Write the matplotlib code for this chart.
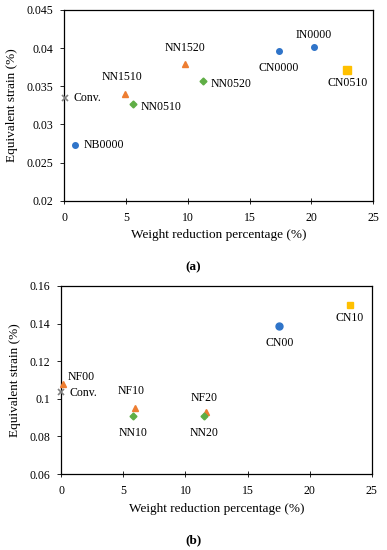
import matplotlib
matplotlib.use("Agg")
import matplotlib.pyplot as plt

plt.rcParams['font.family'] = ['Liberation Serif', 'DejaVu Serif']

BLUE = '#2f74c9'
ORANGE = '#ed7d31'
GREEN = '#5fae45'
YELLOW = '#ffc000'
GRAY = '#808080'

# (a) weight reduction (%) and equivalent strain (%)
a_names = ['Conv.', 'NB0000', 'NN1510', 'NN0510', 'NN1520', 'NN0520', 'CN0000', 'IN0000', 'CN0510']
a_x = [0.05, 0.9, 4.9, 5.6, 9.8, 11.2, 17.4, 20.2, 22.9]
a_y = [0.0335, 0.0273, 0.0340, 0.0327, 0.0379, 0.0357, 0.0396, 0.0402, 0.0371]

# (b)
b_names = ['Conv.', 'NF00', 'NF10', 'NN10', 'NF20', 'NN20', 'CN00', 'CN10']
b_x = [0.0, 0.15, 5.95, 5.75, 11.65, 11.5, 17.55, 23.2]
b_y = [0.1038, 0.1077, 0.0953, 0.091, 0.0928, 0.091, 0.139, 0.150]

# marker, colour, size for each point
a_marks = {
    'Conv.': ('x', GRAY, 5),
    'NB0000': ('o', BLUE, 4),
    'NN1510': ('^', ORANGE, 5),
    'NN0510': ('D', GREEN, 3.5),
    'NN1520': ('^', ORANGE, 5),
    'NN0520': ('D', GREEN, 3.5),
    'CN0000': ('o', BLUE, 4),
    'IN0000': ('o', BLUE, 4),
    'CN0510': ('s', YELLOW, 5.5),
}
b_marks = {
    'Conv.': ('x', GRAY, 5),
    'NF00': ('^', ORANGE, 5),
    'NF10': ('^', ORANGE, 5),
    'NN10': ('D', GREEN, 3.5),
    'NF20': ('^', ORANGE, 5),
    'NN20': ('D', GREEN, 3.5),
    'CN00': ('o', BLUE, 5),
    'CN10': ('s', YELLOW, 5),
}

# label offsets in points (dx, dy, ha, va)
a_offsets = {
    'Conv.': (6, 0, 'left', 'center'),
    'NB0000': (6, 0, 'left', 'center'),
    'NN1510': (-2, 8, 'center', 'bottom'),
    'NN0510': (5, -2, 'left', 'center'),
    'NN1520': (0, 7, 'center', 'bottom'),
    'NN0520': (6, -2, 'left', 'center'),
    'CN0000': (0, -8, 'center', 'top'),
    'IN0000': (0, 4, 'center', 'bottom'),
    'CN0510': (0, -5, 'center', 'top'),
}
b_offsets = {
    'Conv.': (6, -1, 'left', 'center'),
    'NF00': (3, 5, 'left', 'center'),
    'NF10': (-3, 8, 'center', 'bottom'),
    'NN10': (0, -8, 'center', 'top'),
    'NF20': (-1, 6, 'center', 'bottom'),
    'NN20': (0, -8, 'center', 'top'),
    'CN00': (0, -8, 'center', 'top'),
    'CN10': (0, -5, 'center', 'top'),
}

fig = plt.figure(figsize=(3.87, 5.5), dpi=100)
ax1 = fig.add_axes([0.166, 0.635, 0.798, 0.347])
ax2 = fig.add_axes([0.158, 0.138, 0.803, 0.342])


def draw(ax, names, xs, ys, marks, offsets, ylim, yticks, ylabels):
    for n, x, y in zip(names, xs, ys):
        m, c, s = marks[n]
        if m == 'x':
            ax.plot(x, y, marker=m, color=c, ms=s, mew=1.2, ls='none', clip_on=False, zorder=3)
        else:
            ax.plot(x, y, marker=m, color=c, ms=s, mec=c, ls='none', clip_on=False, zorder=3)
        dx, dy, ha, va = offsets[n]
        ax.annotate(n, (x, y), xytext=(dx, dy), textcoords='offset points',
                    ha=ha, va=va, fontsize=8.5)
    ax.set_xlim(0, 25)
    ax.set_ylim(*ylim)
    ax.set_xticks([0, 5, 10, 15, 20, 25])
    ax.set_yticks(yticks)
    ax.set_yticklabels(ylabels)
    ax.tick_params(axis='x', direction='inout', length=4, width=0.6, labelsize=8.5, pad=6)
    ax.tick_params(axis='y', direction='out', length=3, width=0.6, labelsize=8.5, pad=5)
    for sp in ax.spines.values():
        sp.set_linewidth(0.9)
    ax.set_xlabel('Weight reduction percentage (%)', fontsize=9.5, labelpad=4)
    ax.set_ylabel('Equivalent strain (%)', fontsize=9.5, labelpad=6)


draw(ax1, a_names, a_x, a_y, a_marks, a_offsets, (0.02, 0.045),
     [0.02, 0.025, 0.03, 0.035, 0.04, 0.045],
     ['0.02', '0.025', '0.03', '0.035', '0.04', '0.045'])
draw(ax2, b_names, b_x, b_y, b_marks, b_offsets, (0.06, 0.16),
     [0.06, 0.08, 0.1, 0.12, 0.14, 0.16],
     ['0.06', '0.08', '0.1', '0.12', '0.14', '0.16'])

fig.text(0.5, 1 - 267 / 550, '(a)', ha='center', va='center', fontsize=9.5, fontweight='bold')
fig.text(0.5, 1 - 540 / 550, '(b)', ha='center', va='center', fontsize=9.5, fontweight='bold')

fig.savefig('out.png', dpi=100)
